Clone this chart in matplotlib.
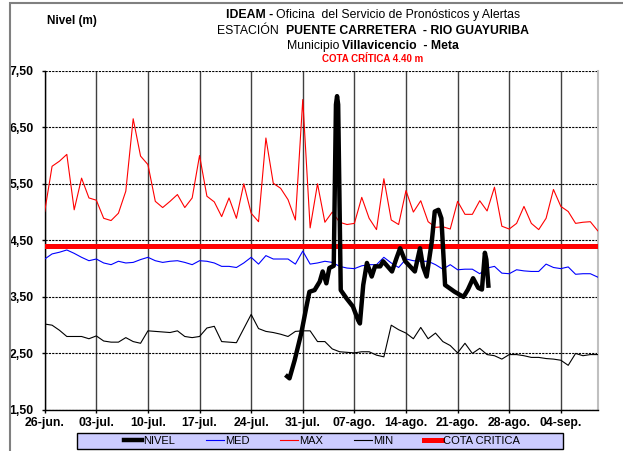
import numpy as np
import matplotlib
matplotlib.use("Agg")
import matplotlib.pyplot as plt
from matplotlib.patches import Rectangle

plt.rcParams['font.family'] = ['Liberation Sans', 'DejaVu Sans']

# daily series, day 0 = 26-jun.
days = np.arange(76)
max_vals = [5.01, 5.81, 5.90, 6.02, 5.04, 5.60, 5.25, 5.21, 4.89, 4.85,
            4.98, 5.37, 6.65, 5.99, 5.84, 5.19, 5.08, 5.19, 5.31, 5.08,
            5.25, 6.00, 5.28, 5.18, 4.92, 5.25, 4.89, 5.50, 4.98, 4.83,
            6.31, 5.51, 5.42, 5.22, 4.86, 6.99, 4.72, 5.50, 4.82, 5.00,
            4.82, 4.78, 4.80, 5.26, 4.89, 4.69, 5.59, 4.86, 4.78, 5.38,
            5.00, 5.20, 4.83, 4.73, 4.74, 4.70, 5.19, 4.96, 4.96, 5.20,
            5.02, 5.44, 4.75, 4.70, 4.80, 5.10, 4.80, 4.69, 4.89, 5.40,
            5.10, 5.01, 4.80, 4.82, 4.83, 4.67]
med_vals = [4.17, 4.26, 4.29, 4.33, 4.27, 4.20, 4.14, 4.17, 4.10, 4.07,
            4.13, 4.10, 4.11, 4.16, 4.20, 4.14, 4.11, 4.13, 4.14, 4.11,
            4.07, 4.14, 4.13, 4.10, 4.04, 4.04, 4.02, 4.10, 4.20, 4.08,
            4.23, 4.17, 4.17, 4.17, 4.08, 4.31, 4.08, 4.10, 4.13, 4.11,
            4.04, 4.01, 4.00, 4.05, 4.07, 4.07, 4.20, 4.10, 4.02, 4.17,
            4.14, 4.13, 4.13, 4.07, 3.99, 4.07, 3.98, 3.99, 3.99, 3.91,
            4.01, 4.04, 3.92, 3.91, 3.98, 3.96, 3.95, 3.95, 4.08, 4.02,
            4.00, 4.03, 3.90, 3.91, 3.91, 3.85]
min_vals = [3.02, 3.00, 2.91, 2.80, 2.80, 2.80, 2.76, 2.81, 2.72, 2.70,
            2.70, 2.78, 2.71, 2.68, 2.90, 2.89, 2.88, 2.87, 2.90, 2.80,
            2.78, 2.80, 2.95, 2.98, 2.71, 2.70, 2.69, 2.94, 3.19, 2.94,
            2.89, 2.87, 2.84, 2.80, 2.89, 2.90, 2.90, 2.71, 2.71, 2.58,
            2.53, 2.52, 2.51, 2.53, 2.53, 2.47, 2.44, 3.00, 2.92, 2.86,
            2.76, 2.96, 2.76, 2.86, 2.71, 2.64, 2.51, 2.68, 2.50, 2.59,
            2.48, 2.46, 2.40, 2.48, 2.48, 2.46, 2.43, 2.43, 2.41, 2.40,
            2.38, 2.29, 2.50, 2.46, 2.48, 2.48]

# observed level readings (day offset, m)
nivel_day = [32.65, 33.2, 33.9, 34.8, 35.5, 35.9, 36.6, 37.3, 37.7, 38.2,
             38.6, 39.2, 39.5, 39.65, 39.8, 40.15, 40.9, 41.8, 42.5, 42.75,
             43.2, 43.7, 44.35, 44.8, 45.5, 45.9, 47.1, 47.7, 48.2, 48.9,
             50.2, 50.9, 51.3, 51.8, 52.5, 52.9, 53.4, 53.8, 54.3, 55.6,
             56.8, 57.4, 58.1, 58.8, 59.3, 59.7, 59.9, 60.2]
nivel_vals = [2.12, 2.06, 2.38, 2.86, 3.33, 3.59, 3.62, 3.77, 3.95, 3.74,
              4.01, 4.05, 6.90, 7.05, 6.90, 3.62, 3.48, 3.33, 3.09, 3.03,
              3.71, 4.10, 3.86, 4.04, 4.04, 4.13, 3.95, 4.18, 4.36, 4.13,
              3.95, 4.36, 4.04, 3.86, 4.48, 5.01, 5.04, 4.89, 3.71, 3.59,
              3.50, 3.63, 3.83, 3.66, 3.63, 4.28, 4.16, 3.66]

cota = 4.40
x_ticks = [0, 7, 14, 21, 28, 35, 42, 49, 56, 63, 70]
x_labels = ['26-jun.', '03-jul.', '10-jul.', '17-jul.', '24-jul.', '31-jul.',
            '07-ago.', '14-ago.', '21-ago.', '28-ago.', '04-sep.']
y_ticks = [1.5, 2.5, 3.5, 4.5, 5.5, 6.5, 7.5]

W, H = 623, 451
fig = plt.figure(figsize=(W / 100, H / 100), dpi=100)
ax = fig.add_axes([44.7 / W, 41 / H, 553 / W, 339.3 / H])

ax.plot(days, max_vals, color='#ff0000', lw=0.8, zorder=3)
ax.plot(days, med_vals, color='#0000ff', lw=0.8, zorder=3)
ax.plot(days, min_vals, color='black', lw=0.8, zorder=3)
ax.axhline(cota, color='#ff0000', lw=3.6, zorder=4)
ax.plot(nivel_day, nivel_vals, color='black', lw=3.2, zorder=5,
        solid_joinstyle='round', solid_capstyle='butt')

ax.set_xlim(0, 75)
ax.set_ylim(1.5, 7.5)
ax.set_xticks(x_ticks)
ax.set_xticklabels(x_labels, fontsize=8.8, fontweight='bold')
ax.set_yticks(y_ticks)
ax.set_yticklabels([f'{v:.2f}'.replace('.', ',') for v in y_ticks],
                   fontsize=8.8, fontweight='bold')
ax.tick_params(axis='x', direction='out', length=2.5, width=1, pad=2.5)
ax.tick_params(axis='y', direction='out', length=2.5, width=1, pad=5.5)

ax.set_axisbelow(True)
ax.xaxis.grid(True, color='#404040', lw=1.0, linestyle='-')
ax.yaxis.grid(True, color='black', lw=0.8, linestyle=(0, (2, 1)))

ax.spines['top'].set_visible(False)
ax.spines['right'].set_color('#c0c0c0')
ax.spines['right'].set_linewidth(1.5)
ax.spines['left'].set_linewidth(1.0)
ax.spines['bottom'].set_linewidth(1.0)

# outer chart border (top and left visible)
fig.add_artist(Rectangle((10 / W, -0.5), 2, 0.5 + 1 - 2.7 / H, fill=False,
                         edgecolor='#808080', lw=1.5, transform=fig.transFigure,
                         clip_on=False))

# mixed-weight title lines
renderer = fig.canvas.get_renderer()


def text_line(parts, cx, cy, size):
    objs = []
    for s, w, c in parts:
        objs.append(fig.text(0, 0, s, fontsize=size, fontweight=w, color=c,
                             ha='left', va='center'))
    t1 = fig.text(0, 0, 'x x', fontsize=size)
    t2 = fig.text(0, 0, 'xx', fontsize=size)
    gap = t1.get_window_extent(renderer).width - t2.get_window_extent(renderer).width
    t1.remove()
    t2.remove()
    widths = [o.get_window_extent(renderer).width for o in objs]
    total = sum(widths) + gap * (len(objs) - 1)
    x = cx - total / 2
    for o, wd in zip(objs, widths):
        o.set_position((x / W, 1 - cy / H))
        x += wd + gap


cx_title = 373
text_line([('IDEAM -', 'bold', 'black'),
           ('Oficina  del Servicio de Pronósticos y Alertas', 'normal', 'black')],
          cx_title, 15, 8.8)
text_line([('ESTACIÓN ', 'normal', 'black'),
           ('PUENTE CARRETERA  - RIO GUAYURIBA', 'bold', 'black')],
          cx_title, 31, 8.8)
text_line([('Municipio', 'normal', 'black'),
           ('Villavicencio  - Meta', 'bold', 'black')],
          cx_title, 46, 8.8)
text_line([('COTA CRÍTICA 4.40 m', 'bold', '#ff0000')], cx_title, 59, 7)

fig.text(47 / W, 1 - 21 / H, 'Nivel (m)', fontsize=8.5, fontweight='bold',
         ha='left', va='center')

# legend
fig.add_artist(Rectangle((77 / W, 1 - 449 / H), 486 / W, 16 / H,
                         facecolor='#ccccff', edgecolor='black', lw=1,
                         transform=fig.transFigure))
h = [plt.Line2D([], [], color='black', lw=3.2),
     plt.Line2D([], [], color='#0000ff', lw=0.8),
     plt.Line2D([], [], color='#ff0000', lw=0.8),
     plt.Line2D([], [], color='black', lw=0.8),
     plt.Line2D([], [], color='#ff0000', lw=3.6)]
leg = fig.legend(h, ['NIVEL', 'MED', 'MAX', 'MIN', 'COTA CRITICA'],
                 loc='center', bbox_to_anchor=(322 / W, 1 - 441 / H),
                 ncol=5, frameon=False, fontsize=8, handlelength=1.6,
                 handletextpad=0.1, columnspacing=2.8, borderpad=0)

fig.savefig('out.png', dpi=100)
